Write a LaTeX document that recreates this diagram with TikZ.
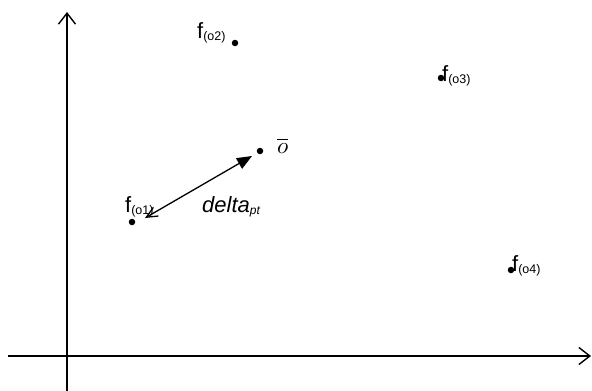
\documentclass[tikz,border=0pt]{standalone}
\usepackage{fontspec}
\setmainfont{Liberation Sans}
\usetikzlibrary{arrows.meta}
\newcommand{\subtxt}[1]{\raisebox{-2.5pt}{\fontsize{12.5}{12.5}\selectfont #1}}
\begin{document}
\begin{tikzpicture}[x=1pt,y=-1pt,
  dot/.style={circle,fill=black,inner sep=0pt,minimum size=6.5pt},
  lbl/.style={inner sep=0pt,font=\fontsize{22}{22}\selectfont},
  axis/.style={line width=1.4pt,-{Straight Barb[length=11pt,width=17pt,line width=1.4pt]}}]
\useasboundingbox (0,0) rectangle (592,391);
% axes
\coordinate (xs) at (8,356);
\coordinate (xe) at (591,356);
\coordinate (ys) at (67,391);
\coordinate (ye) at (67,12);
\draw[axis] (xs) -- (xe);
\draw[axis] (ys) -- (ye);
% points
\node[dot] (o1) at (132,222) {};
\node[dot] (o2) at (235,43) {};
\node[dot] (o3) at (441,78) {};
\node[dot] (o4) at (511,270) {};
\node[dot] (ob) at (260,151) {};
% labels
\node[lbl,anchor=base west] (l1) at (125,212) {f\subtxt{(o1)}};
\node[lbl,anchor=base west] (l2) at (197,38) {f\subtxt{(o2)}};
\node[lbl,anchor=base west] (l3) at (442,81) {f\subtxt{(o3)}};
\node[lbl,anchor=base west] (l4) at (512,271) {f\subtxt{(o4)}};
\node[inner sep=0pt,anchor=base west] (lb) at (277,153) {\scalebox{2.3}{$\overline{o}$}};
\node[lbl,anchor=base west] (ld) at (202,212) {\fontsize{22}{22}\selectfont\itshape delta\raisebox{-2.5pt}{\fontsize{12}{12}\selectfont pt}};
% delta arrow
\coordinate (a1) at (145,218);
\coordinate (a2) at (252,156);
\draw[line width=1.3pt,{Straight Barb[length=11pt,width=10pt,line width=1.3pt]}-{Triangle[length=15pt,width=12pt]}] (a1) -- (a2);
\end{tikzpicture}
\end{document}
